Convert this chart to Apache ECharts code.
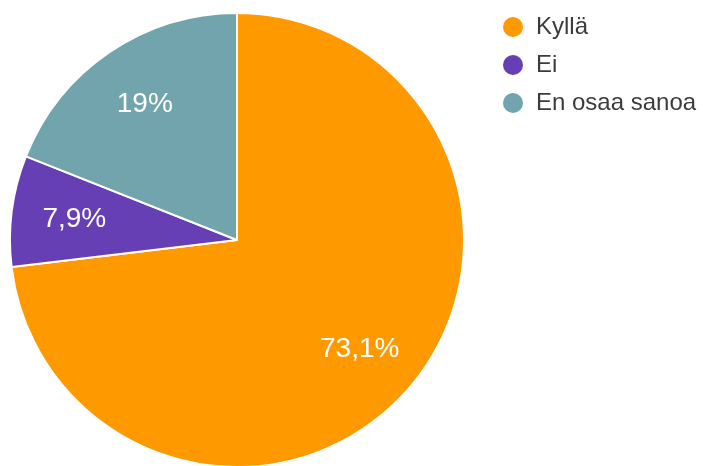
<!DOCTYPE html>
<html>
<head>
<meta charset="utf-8">
<script src="https://cdn.jsdelivr.net/npm/echarts@6/dist/echarts.min.js"></script>
<style>
  html, body { margin: 0; padding: 0; background: #fff; }
  #chart { width: 703px; height: 466px; }
</style>
</head>
<body>
<div id="chart"></div>
<script>
const categories = ['Kyllä', 'Ei', 'En osaa sanoa'];
const values = [73.1, 7.9, 19];
const colors = ['#ff9900', '#673fb4', '#72a4ae'];

const pieData = categories.map((name, i) => ({ name: name, value: values[i] }));

const myChart = echarts.init(document.getElementById('chart'));
myChart.setOption({
  animation: false,
  color: colors,
  legend: {
    orient: 'vertical',
    left: 496,
    top: 10,
    icon: 'circle',
    itemWidth: 36,
    itemHeight: 22,
    itemGap: 14,
    textStyle: {
      fontFamily: 'Liberation Sans, Arial, sans-serif',
      fontSize: 24,
      color: '#3c3c3c'
    },
    data: categories
  },
  series: [
    {
      // slices
      type: 'pie',
      center: [237, 240],
      radius: 227,
      startAngle: 90,
      silent: true,
      label: { show: false },
      labelLine: { show: false },
      itemStyle: { borderColor: '#fff', borderWidth: 2 },
      data: pieData
    },
    {
      // transparent ring that only carries the percentage labels
      type: 'pie',
      center: [237, 240],
      radius: [95, 227],
      startAngle: 90,
      silent: true,
      itemStyle: { color: 'rgba(0,0,0,0)' },
      label: {
        show: true,
        position: 'inside',
        color: '#fff',
        fontFamily: 'Liberation Sans, Arial, sans-serif',
        fontSize: 28,
        formatter: p => String(p.value).replace('.', ',') + '%'
      },
      labelLine: { show: false },
      data: pieData
    }
  ]
});
</script>
</body>
</html>
